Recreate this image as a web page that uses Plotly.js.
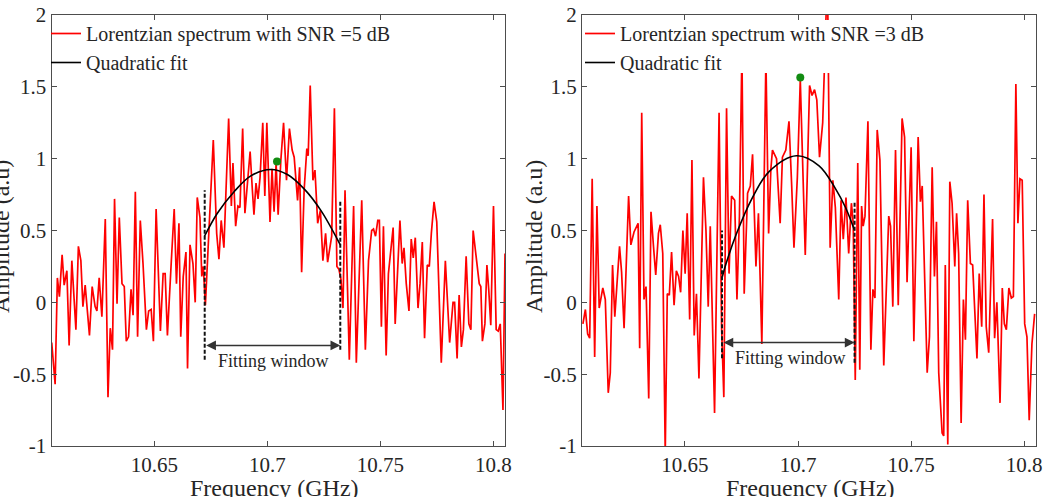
<!DOCTYPE html>
<html>
<head>
<meta charset="utf-8">
<script src="https://cdn.plot.ly/plotly-3.0.1.min.js"></script>
<style>html,body{margin:0;padding:0;background:#fff;}#chart{width:1048px;height:497px;}</style>
</head>
<body>
<div id="chart"></div>
<script>
// ---------- data ----------
const freq5 = [10.6046,10.6053,10.6061,10.6071,10.6080,10.6092,10.6101,10.6113,10.6123,10.6135,10.6153,10.6164,10.6175,10.6184,10.6194,10.6213,10.6225,10.6238,10.6246,10.6256,10.6268,10.6283,10.6295,10.6305,10.6315,10.6324,10.6335,10.6345,10.6357,10.6367,10.6376,10.6386,10.6397,10.6406,10.6416,10.6426,10.6438,10.6450,10.6465,10.6475,10.6486,10.6496,10.6508,10.6527,10.6539,10.6548,10.6558,10.6575,10.6588,10.6598,10.6609,10.6617,10.6628,10.6640,10.6647,10.6658,10.6671,10.6681,10.6690,10.6702,10.6710,10.6717,10.6726,10.6761,10.6776,10.6786,10.6796,10.6808,10.6829,10.6841,10.6848,10.6860,10.6870,10.6879,10.6891,10.6901,10.6912,10.6924,10.6934,10.6941,10.6950,10.6959,10.6968,10.6980,10.6989,10.6998,10.7012,10.7021,10.7030,10.7039,10.7048,10.7060,10.7072,10.7085,10.7098,10.7110,10.7119,10.7134,10.7143,10.7152,10.7163,10.7175,10.7181,10.7190,10.7202,10.7211,10.7223,10.7235,10.7246,10.7258,10.7267,10.7285,10.7297,10.7308,10.7317,10.7326,10.7335,10.7344,10.7363,10.7382,10.7394,10.7418,10.7434,10.7448,10.7462,10.7470,10.7479,10.7489,10.7496,10.7505,10.7514,10.7526,10.7536,10.7557,10.7566,10.7578,10.7587,10.7597,10.7605,10.7615,10.7627,10.7637,10.7646,10.7655,10.7667,10.7676,10.7686,10.7696,10.7708,10.7717,10.7726,10.7738,10.7750,10.7770,10.7788,10.7807,10.7822,10.7829,10.7840,10.7849,10.7859,10.7868,10.7880,10.7892,10.7901,10.7911,10.7926,10.7938,10.7945,10.7952,10.7963,10.7972,10.7980,10.7989,10.8001,10.8013,10.8022,10.8031,10.8043,10.8052];
const amp5 = [-0.28,-0.42,-0.57,0.17,0.04,0.33,0.12,0.22,-0.30,0.29,-0.19,0.39,0.29,-0.03,0.12,-0.23,0.11,-0.03,-0.06,0.17,-0.10,0.58,-0.66,-0.18,-0.33,0.72,-0.01,0.59,0.13,0.11,-0.27,-0.24,0.09,-0.09,0.77,-0.24,0.57,0.27,-0.19,-0.06,-0.05,-0.27,0.65,-0.20,0.20,0.20,-0.23,0.28,0.65,0.13,0.55,-0.24,0.18,0.35,-0.46,0.40,0.27,0.00,0.73,0.59,0.18,0.25,-0.02,1.13,0.48,0.30,0.57,0.38,1.28,0.67,0.97,0.53,0.67,0.66,1.21,0.62,0.85,1.05,0.78,0.61,0.83,0.72,0.87,1.25,0.74,1.25,0.56,0.93,0.63,0.97,0.61,0.99,1.25,0.85,1.21,1.06,1.01,0.71,0.94,0.21,0.78,1.07,1.02,1.51,0.85,0.92,0.55,0.64,0.29,0.48,0.28,0.46,1.35,0.25,0.23,0.16,-0.04,0.78,-0.40,0.67,-0.42,0.71,-0.33,0.29,0.50,0.51,0.46,0.57,0.57,-0.17,0.53,-0.37,0.20,0.52,-0.15,0.29,0.57,0.27,0.38,0.13,-0.06,0.44,0.31,0.45,-0.04,0.13,0.42,-0.25,0.26,0.25,0.48,0.70,0.56,-0.42,0.29,-0.28,0.00,0.00,-0.39,0.05,-0.31,-0.19,0.32,-0.15,-0.19,0.50,0.29,0.13,0.11,-0.27,-0.15,0.26,0.09,-0.16,0.67,-0.19,-0.20,-0.15,-0.75,0.34];

const freq3 = [10.6049,10.6060,10.6070,10.6079,10.6090,10.6101,10.6111,10.6121,10.6137,10.6148,10.6161,10.6170,10.6180,10.6190,10.6201,10.6211,10.6220,10.6231,10.6251,10.6261,10.6275,10.6293,10.6300,10.6309,10.6319,10.6328,10.6340,10.6350,10.6361,10.6371,10.6383,10.6391,10.6402,10.6413,10.6422,10.6431,10.6441,10.6452,10.6462,10.6472,10.6481,10.6491,10.6501,10.6510,10.6521,10.6531,10.6541,10.6551,10.6562,10.6582,10.6593,10.6603,10.6612,10.6631,10.6651,10.6662,10.6672,10.6684,10.6695,10.6706,10.6720,10.6730,10.6741,10.6752,10.6762,10.6777,10.6789,10.6799,10.6814,10.6825,10.6840,10.6858,10.6870,10.6880,10.6887,10.6894,10.6905,10.6921,10.6931,10.6946,10.6960,10.6972,10.6982,10.6997,10.7010,10.7032,10.7051,10.7062,10.7073,10.7083,10.7095,10.7109,10.7130,10.7142,10.7154,10.7165,10.7180,10.7190,10.7200,10.7212,10.7224,10.7236,10.7244,10.7253,10.7264,10.7273,10.7281,10.7288,10.7296,10.7309,10.7322,10.7331,10.7340,10.7350,10.7362,10.7379,10.7401,10.7409,10.7419,10.7431,10.7443,10.7460,10.7471,10.7482,10.7500,10.7512,10.7531,10.7541,10.7549,10.7571,10.7581,10.7593,10.7603,10.7612,10.7622,10.7637,10.7644,10.7651,10.7662,10.7671,10.7681,10.7693,10.7701,10.7710,10.7721,10.7731,10.7740,10.7750,10.7762,10.7772,10.7791,10.7801,10.7812,10.7822,10.7832,10.7843,10.7860,10.7869,10.7879,10.7893,10.7903,10.7912,10.7921,10.7932,10.7943,10.7952,10.7963,10.7972,10.7981,10.7991,10.8002,10.8012,10.8022,10.8034,10.8046];
const amp3 = [-0.15,-0.05,-0.22,-0.25,0.86,-0.38,0.67,-0.04,0.10,0.02,-0.63,-0.49,0.26,-0.10,0.16,0.39,0.21,-0.18,0.74,0.40,0.49,0.55,-0.32,1.32,0.02,0.11,-0.67,0.63,0.39,0.19,0.48,0.54,0.34,-1.05,0.06,0.05,0.35,-0.02,0.22,0.18,0.07,0.50,0.20,0.62,-0.12,0.99,-0.23,0.06,-0.53,0.87,0.50,-0.03,0.53,-0.77,1.32,-0.17,-0.66,1.35,0.20,0.74,0.71,0.02,0.60,1.75,0.06,0.76,0.81,1.03,0.25,0.62,-0.29,1.70,0.48,0.93,1.06,1.04,1.00,0.55,1.01,1.06,1.26,0.81,0.38,0.87,1.55,0.33,1.51,1.44,1.48,1.41,1.01,1.25,2.30,0.38,0.85,0.66,0.02,0.71,0.44,0.73,0.34,0.69,0.55,-0.54,0.97,-0.47,0.67,0.53,0.60,1.26,-0.33,0.09,0.03,1.20,0.99,-0.44,0.60,0.53,-0.03,1.06,-0.02,1.28,1.15,0.14,1.08,-0.27,1.15,0.70,0.81,-0.49,-0.24,0.94,0.18,0.56,-0.49,-0.91,-0.93,0.26,-0.99,0.84,0.69,0.25,0.62,0.34,-0.84,0.02,-0.26,0.71,0.27,0.26,-0.39,0.20,-0.17,0.75,-0.17,-0.35,0.58,-0.25,0.00,-0.70,0.10,-0.15,-0.19,0.10,0.03,0.04,1.52,0.55,0.86,0.85,-0.15,-0.24,-0.82,-0.29,-0.08];

const fit5Freq = [10.6722,10.6779,10.6853,10.6927,10.7015,10.7089,10.7163,10.7237,10.7323];
const fit5Amp  = [0.46,0.62,0.77,0.88,0.925,0.89,0.79,0.64,0.40];
const fit3Freq = [10.6664,10.6682,10.6726,10.6799,10.6872,10.6993,10.7093,10.7166,10.7210,10.7250];
const fit3Amp  = [0.17,0.27,0.47,0.73,0.91,1.02,0.95,0.79,0.66,0.50];

const peak5Freq = [10.7043], peak5Amp = [0.98];
const peak3Freq = [10.7010], peak3Amp = [1.565];

const win5Freq = [10.6723, 10.7323], win5Low = [-0.40, -0.33], win5High = [0.78, 0.71];
const win3Freq = [10.6664, 10.7250], win3Low = [-0.39, -0.42], win3High = [0.50, 0.70];
const arrow5Y = -0.30, arrow3Y = -0.28;
const label5 = {freq: 10.7026, amp: -0.41}, label3 = {freq: 10.6966, amp: -0.39};

const xTickVals = [10.65, 10.7, 10.75, 10.8];
const xTickText = ['10.65', '10.7', '10.75', '10.8'];
const yTickVals = [-1, -0.5, 0, 0.5, 1, 1.5, 2];
const yTickText = ['-1', '-0.5', '0', '0.5', '1', '1.5', '2'];

const seriesNames = ['Lorentzian spectrum with SNR =5 dB', 'Lorentzian spectrum with SNR =3 dB'];
const fitName = 'Quadratic fit';
const windowText = 'Fitting window';
const xTitle = 'Frequency (GHz)';
const yTitle = 'Amplitude (a.u)';

// ---------- layout helpers ----------
const W = 1048, H = 497;
const FONT = 'Liberation Serif, "Times New Roman", Times, serif';
const TXT = '#262626';
const AX = '#4d4d4d';
const px = v => v / W;
const py = v => 1 - v / H;

function axis(extra) {
  return Object.assign({
    showline: true, linecolor: AX, linewidth: 1, mirror: 'ticks',
    ticks: 'inside', ticklen: 5, tickwidth: 1, tickcolor: AX,
    showgrid: false, zeroline: false, fixedrange: true,
    tickfont: {family: FONT, size: 21, color: TXT}
  }, extra);
}

function dashed(f, lo, hi, xa, ya) {
  return {x: [f[0], f[0], null, f[1], f[1]], y: [lo[0], hi[0], null, lo[1], hi[1]],
    xaxis: xa, yaxis: ya, mode: 'lines', showlegend: false, hoverinfo: 'skip',
    line: {color: '#111', width: 2, dash: '4px,2px'}};
}

const traces = [
  {x: freq5, y: amp5, xaxis: 'x', yaxis: 'y', mode: 'lines', name: seriesNames[0], legend: 'legend',
   line: {color: '#ff0000', width: 1.7}},
  {x: fit5Freq, y: fit5Amp, xaxis: 'x', yaxis: 'y', mode: 'lines', name: fitName, legend: 'legend',
   line: {color: '#000', width: 1.6, shape: 'spline'}},
  dashed(win5Freq, win5Low, win5High, 'x', 'y'),
  {x: peak5Freq, y: peak5Amp, xaxis: 'x', yaxis: 'y', mode: 'markers', showlegend: false,
   marker: {color: '#128c12', size: 8}},
  {x: freq3, y: amp3, xaxis: 'x2', yaxis: 'y2', mode: 'lines', name: seriesNames[1], legend: 'legend2',
   line: {color: '#ff0000', width: 1.7}},
  {x: fit3Freq, y: fit3Amp, xaxis: 'x2', yaxis: 'y2', mode: 'lines', name: fitName, legend: 'legend2',
   line: {color: '#000', width: 1.6, shape: 'spline'}},
  dashed(win3Freq, win3Low, win3High, 'x2', 'y2'),
  {x: peak3Freq, y: peak3Amp, xaxis: 'x2', yaxis: 'y2', mode: 'markers', showlegend: false,
   marker: {color: '#128c12', size: 8}}
];

const xRange = [10.6045, 10.8052];
const yDom = [py(446), py(15)];

function arrow(win, yv, xr, yr) {
  return {xref: xr, yref: yr, axref: xr, ayref: yr, x: win[1], y: yv, ax: win[0], ay: yv,
    text: '', showarrow: true, arrowside: 'end+start', arrowhead: 2, arrowsize: 1.3,
    arrowwidth: 1.5, arrowcolor: '#333', standoff: 0, startstandoff: 0};
}
function label(text, x, y, xr, yr, size, angle) {
  return {xref: xr, yref: yr, x: x, y: y, text: text, showarrow: false,
    xanchor: 'center', yanchor: 'middle', textangle: angle || 0,
    font: {family: FONT, size: size, color: TXT}};
}

const legendStyle = {
  bgcolor: 'rgba(0,0,0,0)', borderwidth: 0, xanchor: 'left', yanchor: 'top',
  font: {family: FONT, size: 20, color: TXT}, itemwidth: 30, tracegroupgap: 0
};

const layout = {
  width: W, height: H,
  margin: {l: 0, r: 0, t: 0, b: 0},
  paper_bgcolor: '#fff', plot_bgcolor: '#fff',
  xaxis: axis({domain: [px(51.5), px(505)], range: xRange, tickvals: xTickVals, ticktext: xTickText, anchor: 'y'}),
  yaxis: axis({domain: yDom, range: [-1, 2], tickvals: yTickVals, ticktext: yTickText, anchor: 'x'}),
  xaxis2: axis({domain: [px(582), px(1036)], range: xRange, tickvals: xTickVals, ticktext: xTickText, anchor: 'y2'}),
  yaxis2: axis({domain: yDom, range: [-1, 2], tickvals: yTickVals, ticktext: yTickText, anchor: 'x2'}),
  legend: Object.assign({x: px(46), y: py(14)}, legendStyle),
  legend2: Object.assign({x: px(580), y: py(14)}, legendStyle),
  shapes: [
    {type: 'rect', xref: 'paper', yref: 'paper', x0: px(583), x1: px(925), y0: py(73), y1: py(20),
     fillcolor: '#fff', line: {width: 0}, layer: 'above'}
  ],
  annotations: [
    arrow(win5Freq, arrow5Y, 'x', 'y'),
    arrow(win3Freq, arrow3Y, 'x2', 'y2'),
    label(windowText, label5.freq, label5.amp, 'x', 'y', 18),
    label(windowText, label3.freq, label3.amp, 'x2', 'y2', 18),
    label(xTitle, px(274), py(488), 'paper', 'paper', 24),
    label(xTitle, px(810), py(488), 'paper', 'paper', 24),
    label(yTitle, px(1), py(237), 'paper', 'paper', 24, -90),
    label(yTitle, px(534), py(237), 'paper', 'paper', 24, -90)
  ],
  showlegend: true
};

Plotly.newPlot('chart', traces, layout, {displayModeBar: false, staticPlot: true});
</script>
</body>
</html>
